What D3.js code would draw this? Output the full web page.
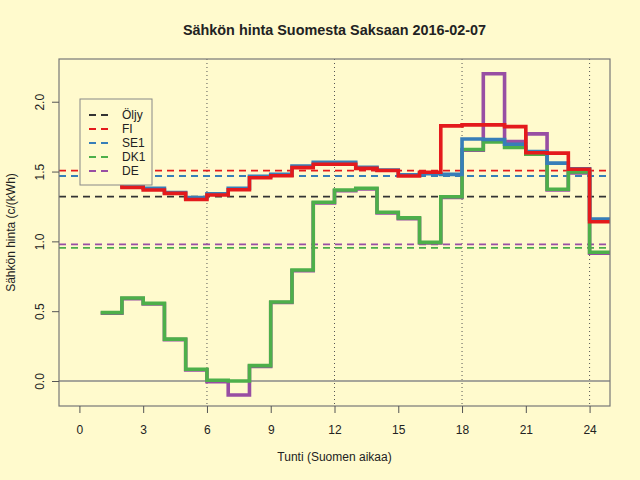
<!DOCTYPE html>
<html>
<head>
<meta charset="utf-8">
<script src="https://cdn.jsdelivr.net/npm/d3@7"></script>
<style>
  html, body { margin: 0; padding: 0; background: #fffacd; }
  text { font-family: "Liberation Sans", Arial, sans-serif; fill: #222; }
</style>
</head>
<body>
<div id="chart"></div>
<script>
// Hourly prices c/kWh, hour 1..24 (value holds until next hour)
const hours = d3.range(1, 25);
const fi  = [1.42, 1.387, 1.368, 1.344, 1.300, 1.332, 1.370, 1.456, 1.470, 1.528, 1.552, 1.552,
             1.523, 1.507, 1.468, 1.495, 1.827, 1.834, 1.834, 1.822, 1.635, 1.632, 1.516, 1.141];
const se1 = [1.43, 1.397, 1.380, 1.350, 1.313, 1.340, 1.380, 1.466, 1.480, 1.540, 1.566, 1.566,
             1.530, 1.510, 1.477, 1.485, 1.480, 1.733, 1.730, 1.695, 1.643, 1.560, 1.520, 1.160];
const dk1 = [0.490, 0.594, 0.556, 0.300, 0.084, 0.005, 0.000, 0.110, 0.566, 0.795, 1.280, 1.368,
             1.380, 1.208, 1.168, 0.993, 1.320, 1.658, 1.712, 1.673, 1.624, 1.373, 1.497, 0.922];
const de  = [0.485, 0.590, 0.551, 0.296, 0.080, -0.005, -0.100, 0.105, 0.562, 0.790, 1.275, 1.363,
             1.375, 1.203, 1.163, 0.988, 1.315, 1.653, 2.200, 1.715, 1.770, 1.368, 1.490, 0.915];

// Daily averages (dashed lines) and legend
const legendNames = ["Öljy", "FI", "SE1", "DK1", "DE"];
const avgValues = [1.320, 1.507, 1.468, 0.953, 0.979];
const colors = ["#333333", "#e41a1c", "#377eb8", "#4daf4a", "#984ea3"];

const xTicks = [0, 3, 6, 9, 12, 15, 18, 21, 24];
const yTicks = [0, 0.5, 1, 1.5, 2];
const vLines = [6, 12, 18, 24];

const width = 640, height = 480;
const margin = { top: 59, right: 30, bottom: 74, left: 59 };
const plotW = width - margin.left - margin.right;
const plotH = height - margin.top - margin.bottom;

const svg = d3.select("#chart").append("svg")
  .attr("width", width)
  .attr("height", height);

svg.append("rect").attr("width", width).attr("height", height).attr("fill", "#fffacd");

const x = d3.scaleLinear().domain([-0.96, 24.96]).range([0, plotW]);
const y = d3.scaleLinear().domain([-0.179, 2.306]).range([plotH, 0]);

const g = svg.append("g").attr("transform", `translate(${margin.left},${margin.top})`);

g.append("clipPath").attr("id", "clip")
  .append("rect").attr("width", plotW).attr("height", plotH);

const plot = g.append("g").attr("clip-path", "url(#clip)");

// dotted verticals
plot.selectAll("line.v").data(vLines).enter().append("line")
  .attr("x1", d => x(d)).attr("x2", d => x(d))
  .attr("y1", 0).attr("y2", plotH)
  .attr("stroke", "#555").attr("stroke-width", 1)
  .attr("stroke-dasharray", "1,3");

// zero line
plot.append("line")
  .attr("x1", 0).attr("x2", plotW)
  .attr("y1", y(0)).attr("y2", y(0))
  .attr("stroke", "#888").attr("stroke-width", 1.3);

// average dashed lines
plot.selectAll("line.avg").data(avgValues).enter().append("line")
  .attr("x1", 0).attr("x2", plotW)
  .attr("y1", d => y(d)).attr("y2", d => y(d))
  .attr("stroke", (d, i) => colors[i])
  .attr("stroke-width", 1.8)
  .attr("stroke-dasharray", "7,5");

// step lines
const step = d3.line()
  .x(d => x(d[0]))
  .y(d => y(d[1]))
  .curve(d3.curveStepAfter);

const series = [
  { values: de, color: colors[4] },
  { values: dk1, color: colors[3] },
  { values: se1, color: colors[2] },
  { values: fi, color: colors[1] }
];

series.forEach(s => {
  const pts = hours.map((h, i) => [h, s.values[i]]);
  pts.push([25, s.values[s.values.length - 1]]);
  plot.append("path")
    .datum(pts)
    .attr("fill", "none")
    .attr("stroke", s.color)
    .attr("stroke-width", 3.6)
    .attr("d", step);
});

// frame
g.append("rect")
  .attr("width", plotW).attr("height", plotH)
  .attr("fill", "none").attr("stroke", "#777").attr("stroke-width", 1.2);

// x axis
const xAxis = g.append("g")
  .attr("transform", `translate(0,${plotH})`)
  .call(d3.axisBottom(x).tickValues(xTicks).tickSize(7).tickPadding(12).tickFormat(d3.format("d")));
xAxis.select(".domain").remove();
xAxis.selectAll("line").attr("stroke", "#555");
xAxis.selectAll("text").attr("font-size", 12).attr("fill", "#222")
  .attr("font-family", "Liberation Sans, Arial, sans-serif");

// y axis
const yAxis = g.append("g")
  .call(d3.axisLeft(y).tickValues(yTicks).tickSize(7).tickFormat(d3.format(".1f")));
yAxis.select(".domain").remove();
yAxis.selectAll("line").attr("stroke", "#555");
yAxis.selectAll("text")
  .attr("font-size", 12).attr("fill", "#222")
  .attr("font-family", "Liberation Sans, Arial, sans-serif")
  .attr("x", null).attr("dy", null)
  .attr("text-anchor", "middle")
  .attr("transform", "translate(-15,0) rotate(-90)");

// titles
svg.append("text")
  .attr("x", margin.left + plotW / 2).attr("y", 35)
  .attr("text-anchor", "middle")
  .attr("font-size", 14.4).attr("font-weight", "bold")
  .text("Sähkön hinta Suomesta Saksaan 2016-02-07");

svg.append("text")
  .attr("x", margin.left + plotW / 2).attr("y", 461)
  .attr("text-anchor", "middle")
  .attr("font-size", 12)
  .text("Tunti (Suomen aikaa)");

svg.append("text")
  .attr("transform", `translate(15,${margin.top + plotH / 2}) rotate(-90)`)
  .attr("text-anchor", "middle")
  .attr("font-size", 12)
  .text("Sähkön hinta (c/(kWh)");

// legend
const legend = svg.append("g").attr("transform", "translate(80,99)");
legend.append("rect")
  .attr("width", 72).attr("height", 86)
  .attr("fill", "#fffacd").attr("stroke", "#888").attr("stroke-width", 1);

const item = legend.selectAll("g.item").data(legendNames).enter().append("g")
  .attr("transform", (d, i) => `translate(0,${16 + i * 14})`);
item.append("line")
  .attr("x1", 9).attr("x2", 29)
  .attr("stroke", (d, i) => colors[i])
  .attr("stroke-width", 1.8)
  .attr("stroke-dasharray", "7,5");
item.append("text")
  .attr("x", 42).attr("dy", "0.35em")
  .attr("font-size", 12)
  .text(d => d);
</script>
</body>
</html>
